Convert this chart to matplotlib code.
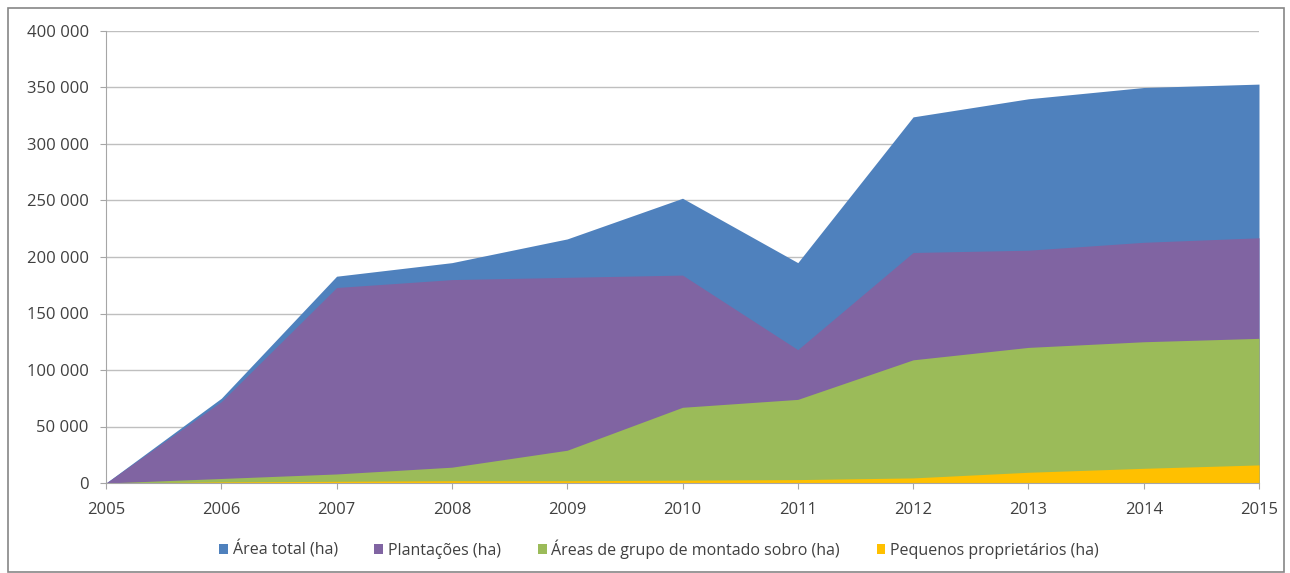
import matplotlib.pyplot as plt
from matplotlib.patches import Rectangle
from matplotlib.ticker import FuncFormatter

years = [2005, 2006, 2007, 2008, 2009, 2010, 2011, 2012, 2013, 2014, 2015]
area_total = [0, 75000, 183000, 195000, 216000, 252000, 195000, 324000, 340000, 350000, 353000]
plantacoes = [0, 72000, 173000, 180000, 182000, 184000, 118000, 204000, 206000, 213000, 217000]
montado_sobro = [0, 4000, 8000, 14000, 29000, 67000, 74000, 109000, 120000, 125000, 128000]
pequenos = [0, 1000, 1500, 2000, 2000, 2500, 3000, 4500, 9500, 13000, 16000]

labels = ['Área total (ha)', 'Plantações (ha)',
          'Áreas de grupo de montado sobro (ha)', 'Pequenos proprietários (ha)']
colors = ['#4F81BD', '#8064A2', '#9BBB59', '#FFC000']


def main():
    plt.rcParams['font.family'] = ['Open Sans', 'DejaVu Sans']
    fig = plt.figure(figsize=(12.9, 5.73), dpi=100)
    # plot area in pixels: left 106, right 1259, top 31, bottom 483
    ax = fig.add_axes([106 / 1290, 1 - 483 / 573, 1153 / 1290, 452 / 573])

    series = [area_total, plantacoes, montado_sobro, pequenos]
    for vals, lab, col in zip(series, labels, colors):
        ax.fill_between(years, 0, vals, color=col, label=lab, linewidth=0, zorder=2)

    ax.set_xlim(2005, 2015)
    ax.set_ylim(0, 400000)
    ax.set_xticks(years)
    ax.set_yticks(range(0, 400001, 50000))
    ax.yaxis.set_major_formatter(FuncFormatter(lambda v, p: f'{int(v):,}'.replace(',', ' ')))
    ax.grid(axis='y', color='#BFBFBF', linewidth=1, zorder=0)
    ax.set_axisbelow(True)

    for s in ['top', 'right']:
        ax.spines[s].set_visible(False)
    ax.spines['left'].set_color('#A6A6A6')
    ax.spines['bottom'].set_color('#A6A6A6')
    ax.spines['bottom'].set_zorder(3)
    ax.tick_params(axis='y', length=4.5, color='#A6A6A6', labelsize=12, labelcolor='#404040', pad=8)
    ax.tick_params(axis='x', length=4, color='#A6A6A6', labelsize=12, labelcolor='#404040', pad=10)

    ax.legend(loc='center', bbox_to_anchor=(659 / 1290, 1 - 549 / 573),
              bbox_transform=fig.transFigure, ncol=4, frameon=False,
              fontsize=11.5, handlelength=0.55, handleheight=0.55,
              columnspacing=2.3, handletextpad=0.3, labelcolor='#404040')

    fig.patches.append(Rectangle((8 / 1290, 1 / 573), 1276 / 1290, 564 / 573,
                                 transform=fig.transFigure, fill=False,
                                 edgecolor='#868686', linewidth=1.2))

    fig.savefig('out.png', dpi=100)


if __name__ == "__main__":
    main()
